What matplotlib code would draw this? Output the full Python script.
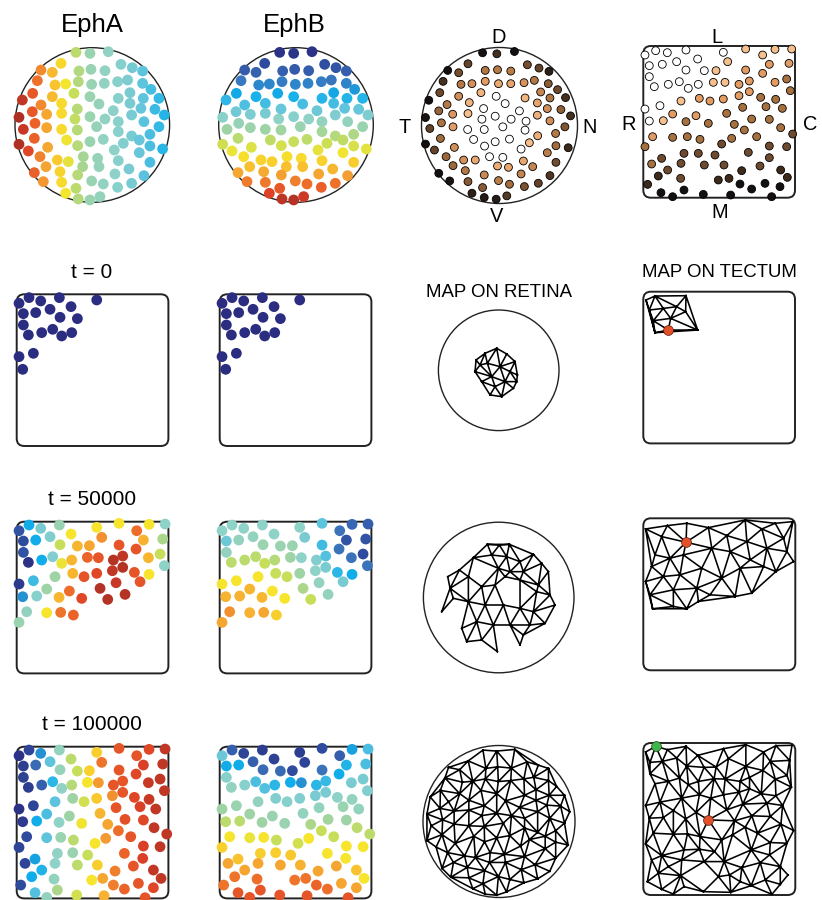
import numpy as np
import matplotlib
matplotlib.use("Agg")
import matplotlib.pyplot as plt
from matplotlib.patches import Circle, FancyBboxPatch
from matplotlib.colors import LinearSegmentedColormap, Normalize
import matplotlib.tri as mtri

plt.rcParams['font.family'] = ['Liberation Sans', 'DejaVu Sans']

# ---------------------------------------------------------------- data ----
# Retinal ganglion cell positions (retina frame: centre (277, 375), radius 232)
RET_X = [228, 270, 325,
         183, 123, 157, 237, 273, 315, 363, 397, 428,
         112, 165, 197, 235, 275, 313, 353, 383, 428,
         98, 157, 222, 270, 355, 390, 430, 453, 477,
         67, 123, 185, 297, 340, 390, 423, 465,
         97, 140, 185, 232, 270, 315, 395, 493,
         57, 105, 225, 290, 355, 432, 477,
         70, 140, 185, 232, 355, 395, 450,
         103, 200, 270, 310, 370, 418, 450, 488,
         57, 85, 143, 233, 343, 418,
         120, 172, 205, 250, 293, 355, 450,
         138, 180, 248, 297, 387, 345, 432,
         103, 233, 275, 310, 353, 395,
         130, 185, 228,
         197, 235, 270, 300]
RET_Y = [157, 160, 155,
         190, 210, 217, 213, 208, 212, 193, 203, 213,
         242, 255, 252, 245, 253, 250, 245, 240, 250,
         280, 290, 280, 290, 295, 278, 295, 268, 295,
         300, 315, 310, 312, 332, 310, 325, 328,
         335, 343, 340, 327, 350, 357, 345, 345,
         352, 370, 357, 380, 365, 365, 380,
         388, 383, 388, 390, 395, 408, 403,
         415, 420, 425, 418, 430, 420, 438, 447,
         433, 453, 442, 437, 450, 458,
         470, 480, 485, 470, 475, 482, 487,
         500, 515, 500, 500, 507, 522, 527,
         518, 525, 543, 552, 562, 550,
         545, 547, 565,
         580, 597, 600, 590]
RET_FRAME = (277, 375, 232)

# EphA expression along the nasal-temporal axis, EphB along dorsal-ventral
EPHA_AXIS_POS = [57, 105, 140, 170, 195, 232, 270, 320, 390, 440, 495]
EPHA_AXIS_LVL = [0.98, 0.88, 0.80, 0.74, 0.68, 0.57, 0.50, 0.46, 0.42, 0.37, 0.32]
EPHB_AXIS_POS = [157, 600]
EPHB_AXIS_LVL = [0.03, 0.97]

# Second retina sample, shaded by eccentricity (frame: centre (313, 316), radius 235)
ECC_X = [262, 305, 358,
         218, 397, 157, 190, 270, 307, 347, 432, 462,
         143, 197, 230, 270, 310, 347, 387, 418, 460, 488,
         133, 190, 257, 303, 390, 437, 465, 512,
         100, 155, 222, 265, 330, 373, 427, 457, 498,
         90, 130, 172, 218, 260, 300, 348, 393, 427, 465, 527,
         103, 138, 173, 217, 267, 323, 390, 510,
         90, 135, 235, 300, 343, 428, 482, 520,
         117, 177, 268, 378, 403, 457, 483,
         152, 205, 240, 283, 323, 385, 483,
         130, 173, 210, 307, 340, 413, 465,
         163, 218, 267, 310, 343, 378, 430, 388,
         230, 262, 335, 267, 303]
ECC_Y = [97, 100, 93,
         130, 133, 150, 157, 150, 148, 152, 143, 153,
         183, 192, 190, 183, 190, 190, 187, 180, 190, 208,
         217, 228, 217, 228, 233, 215, 233, 232,
         240, 253, 247, 265, 250, 272, 248, 265, 268,
         292, 272, 282, 280, 297, 288, 297, 303, 285, 302, 287,
         325, 308, 320, 328, 328, 320, 330, 320,
         372, 355, 358, 365, 357, 347, 340, 383,
         390, 382, 378, 387, 368, 398, 377,
         410, 420, 420, 410, 412, 423, 427,
         460, 437, 452, 438, 442, 440, 467,
         483, 485, 465, 482, 493, 462, 490, 500,
         520, 503, 528, 533, 538]
ECC_FRAME = (313, 316, 235)
ECC_RADIUS = [0.43, 0.60, 0.80, 0.90, 0.96]
ECC_LEVEL = [1.0, 2.0, 3.3, 4.3, 6.0]

# Tectal cells (frame x 100..555, y 78..533) shaded by level 0 (white) .. 6 (black)
TBROWN_X = [105, 137, 172, 228, 340, 407, 458, 495, 545,
            118, 157, 200, 263, 353, 478, 537,
            118, 228, 283, 318, 407, 458,
            133, 175, 208, 235, 265, 310, 345, 387, 418, 495, 530,
            387, 418, 452, 497, 541,
            150, 213, 268, 300, 340, 398, 468, 517,
            105, 118, 160, 188, 228, 258, 295, 350, 373, 425, 478,
            512, 548,
            128, 188, 232, 270, 365, 403, 440,
            105, 335, 478, 530,
            222, 265, 315, 415,
            125, 155, 213, 283, 342, 395, 450, 478, 512,
            145, 173, 212, 325, 357, 532,
            113, 153, 188, 222, 280, 362, 390, 425, 465, 510, 485]
TBROWN_Y = [105, 92, 98, 90, 97, 87, 105, 88, 87,
            137, 133, 125, 117, 125, 133, 130,
            170, 150, 152, 152, 150, 160,
            200, 193, 185, 205, 193, 187, 187, 193, 183, 187, 177,
            227, 215, 232, 238, 212,
            257, 243, 235, 243, 237, 262, 260, 265,
            267, 303, 302, 282, 305, 287, 310, 280, 313, 297, 298,
            323, 342,
            350, 352, 350, 358, 355, 330, 350,
            380, 372, 378, 380,
            400, 400, 405, 397,
            432, 415, 430, 435, 435, 452, 438, 413, 450,
            468, 450, 475, 480, 475, 472,
            493, 518, 530, 510, 523, 525, 492, 507, 490, 500, 530]
TBROWN_LVL = [0, 0, 0, 0, 0, 1, 1, 1, 1,
              0, 0, 0, 0, 1, 2, 2,
              0, 0, 0, 1, 2, 2,
              0, 0, 0, 0, 0, 1, 1, 2, 2, 2, 3,
              2, 2, 3, 3, 3,
              0, 1, 2, 2, 2, 3, 3, 3,
              0, 0, 1, 2, 3, 2, 3, 3, 3, 3, 3,
              3, 4,
              2, 3, 3, 3, 3, 3, 3,
              3, 4, 4, 4,
              4, 4, 4, 4,
              3, 4, 4, 4, 4, 5, 4, 4, 5,
              5, 4, 4, 5, 5, 5,
              5, 6, 6, 6, 6, 6, 6, 6, 6, 6, 6]
TBROWN_FRAME = (100, 555, 78, 533)

# Tectal cell positions used in the time series (frame x 50..505, y 35..490)
TEC_X = [57, 87, 122, 178, 290, 357, 410, 447, 495,
         70, 107, 150, 213, 305, 430, 488,
         70, 180, 232, 268, 357, 408, 480,
         85, 125, 158, 185, 215, 262, 295, 340, 368, 445, 493,
         57, 100, 165, 218, 252, 290, 337, 368, 403, 447, 420, 467,
         68, 110, 140, 177, 208, 245, 300, 348, 323, 375, 430, 462,
         80, 140, 182, 220, 317, 355, 392, 500,
         57, 285, 430, 480,
         172, 218, 263, 373, 428,
         75, 105, 165, 232, 292, 400, 345, 460,
         95, 125, 162, 275, 308, 340, 373, 415, 460, 483,
         62, 105, 140, 172, 230, 312, 435]
TEC_Y = [62, 45, 55, 45, 52, 40, 62, 43, 42,
         93, 90, 80, 72, 82, 90, 87,
         127, 104, 108, 107, 105, 117, 132,
         157, 150, 140, 160, 150, 142, 143, 150, 138, 143, 167,
         222, 212, 200, 190, 200, 190, 182, 172, 187, 193, 215, 222,
         260, 258, 237, 262, 243, 265, 235, 218, 268, 253, 255, 278,
         305, 308, 307, 315, 310, 287, 305, 297,
         337, 325, 333, 335,
         355, 353, 360, 355, 370,
         385, 372, 385, 390, 390, 393, 408, 405,
         425, 405, 432, 435, 430, 450, 462, 445, 458, 430,
         450, 473, 487, 465, 480, 482, 488]
TEC_FRAME = (50, 505, 35, 490)

# Innervated tectal cells at t = 0 (all carry the initial label)
T0_CELLS = [0, 1, 2, 3, 4, 9, 10, 11, 12, 16, 17, 18, 23, 24, 25, 26, 27, 34, 35, 46]
T0_LEVEL = 0.01

N = None
EPHA_T50 = [.12, .30, .42, .50, .68, .68, .87, .68, .45,
            .10, .30, .43, .68, .83, .78, .55,
            .12, .60, .77, .80, .90, .90, .60,
            .03, .30, .43, .66, .77, .88, .90, .97, .96, .77, .45,
            .05, .35, .52, .77, .90, .92, .96, .97, .90, .68, .90, N,
            .25, .44, .52, .77, .87, .92, .97, .95, .97, .97, N, N,
            .47, .68, .86, .88, N, N, N, N,
            .50, N, N, N,
            N, N, N, N, N,
            N, N, N, N, N, N, N, N,
            N, N, N, N, N, N, N, N, N, N,
            N, N, N, N, N, N, N]
EPHB_T50 = [.45, .45, .45, .45, .45, .38, .20, .17, .15,
            .40, .47, .47, .45, .42, .12, .12,
            .47, .50, .50, .50, .35, .20, .10,
            .58, .58, .58, .60, .57, .52, .45, .43, .37, .20, .20,
            .68, .68, .68, .60, .60, .52, .45, .42, .33, .30, .42, N,
            .78, .78, .77, .77, .68, .68, .55, .47, .60, .47, N, N,
            .83, .78, .80, .73, N, N, N, N,
            .80, N, N, N,
            N, N, N, N, N,
            N, N, N, N, N, N, N, N,
            N, N, N, N, N, N, N, N, N, N,
            N, N, N, N, N, N, N]
EPHA_T100 = [.03, .08, .25, .47, .73, .90, .90, .92, .96,
             .06, .18, .38, .58, .86, .93, .96,
             .07, .48, .60, .72, .90, .92, .96,
             .06, .15, .33, .46, .57, .68, .82, .90, .90, .95, .96,
             .03, .08, .38, .52, .62, .74, .83, .90, .92, .95, .93, .96,
             .05, .30, .36, .45, .52, .67, .77, .90, .80, .91, .92, .96,
             .10, .38, .50, .58, .82, .87, .90, .96,
             .08, .68, .93, .96,
             .46, .50, .60, .88, .93,
             .08, .28, .45, .58, .73, .90, .85, .96,
             .30, .32, .47, .68, .80, .85, .88, .90, .92, .96,
             .10, .37, .47, .55, .62, .78, .90]
EPHB_T100 = [.40, .15, .08, .06, .06, .10, .15, .28, .36,
             .30, .30, .15, .07, .08, .32, .36,
             .44, .18, .18, .10, .20, .30, .42,
             .47, .44, .36, .37, .33, .30, .25, .33, .34, .42, .43,
             .52, .50, .47, .43, .44, .43, .42, .42, .45, .47, .50, .47,
             .58, .58, .52, .52, .50, .50, .47, .47, .55, .53, .52, .58,
             .68, .66, .68, .60, .68, .60, .60, .58,
             .72, .62, .68, .68,
             .73, .73, .74, .68, .68,
             .80, .75, .80, .80, .78, .80, .80, .75,
             .86, .80, .87, .86, .86, .88, .87, .80, .80, .68,
             .86, .90, .90, .90, .90, .90, .90]

# Map meshes: vertex positions in each panel's own frame
RMAP_T0_X = [290, 320, 345, 352, 340, 305, 270, 245, 225, 228, 262, 300, 275, 315, 330, 255, 285, 240, 350]
RMAP_T0_Y = [295, 312, 335, 375, 415, 440, 435, 395, 365, 330, 340, 350, 380, 395, 365, 310, 410, 345, 395]
RMAP_T0_FRAME = (296, 361, 181)
TMAP_T0_X = [738, 765, 858, 748, 790, 830, 857, 893, 805, 765, 760, 812]
TMAP_T0_Y = [150, 138, 137, 180, 175, 170, 185, 240, 240, 248, 212, 205]
TMAP_T0_FRAME = (730, 1185, 125, 580)
TMAP_T0_MARK = 8

RMAP_T50_X = [190, 232, 268, 298, 370, 395, 415, 385, 265, 300, 340, 290, 330, 245,
              113, 148, 175, 215, 255, 285, 330, 380, 420, 435, 405, 360, 340, 330, 262,
              215, 170, 155, 95, 130, 175, 225, 280, 330, 370, 200, 250, 300, 120]
RMAP_T50_Y = [158, 118, 120, 118, 148, 175, 200, 240, 190, 200, 200, 155, 170, 150,
              215, 195, 215, 245, 240, 215, 225, 260, 270, 300, 355, 360, 390, 420, 440,
              405, 410, 370, 320, 280, 290, 300, 300, 310, 320, 350, 360, 360, 250]
RMAP_T50_FRAME = (266, 277.5, 226)
TMAP_T50_X = [47, 112, 170, 235, 290, 345, 395, 435, 488, 490, 437, 400, 360, 330, 365, 315,
              275, 240, 200, 170, 130, 68, 60, 47, 65, 75, 95, 168, 160, 120, 100, 150, 215,
              245, 300, 350, 410, 460, 470, 130, 205]
TMAP_T50_Y = [72, 62, 55, 68, 92, 45, 72, 55, 50, 170, 200, 185, 165, 190, 265, 275,
              220, 270, 250, 312, 305, 312, 270, 230, 185, 150, 95, 112, 150, 160, 215, 210, 190,
              130, 140, 110, 130, 100, 140, 255, 290]
TMAP_T50_FRAME = (40, 495, 40, 497)
TMAP_T50_MARK = 27

TMAP_T100_RED = 51
TMAP_T100_GREEN = 1

# ------------------------------------------------------------- styling ----
W, H = 822, 900
fig = plt.figure(figsize=(W / 100, H / 100), dpi=100)

EPH_CMAP = LinearSegmentedColormap.from_list("eph", [
    (0.00, "#2b2a7e"), (0.10, "#2f4c9e"), (0.20, "#3b73bb"), (0.30, "#0faeeb"),
    (0.38, "#5ec3dd"), (0.45, "#8fd2c8"), (0.52, "#9dd3a6"), (0.60, "#c6de5a"),
    (0.68, "#f7e52c"), (0.75, "#f9c42f"), (0.82, "#f39a32"), (0.88, "#ec6529"),
    (0.93, "#dd4127"), (1.00, "#9c2a22")])
BROWN_CMAP = LinearSegmentedColormap.from_list("ecc", [
    (0 / 6, "#ffffff"), (1 / 6, "#f6bf8b"), (2 / 6, "#e29b63"), (3 / 6, "#a8703f"),
    (4 / 6, "#6e4a2e"), (5 / 6, "#3e2a1a"), (6 / 6, "#141010")])

DOT = 60
BDOT = 32
LINE = "#222222"
MESH_LW = 1.15


def px_axes(left, top, size):
    ax = fig.add_axes([left / W, 1 - (top + size) / H, size / W, size / H])
    ax.set_axis_off()
    return ax


def retina_axes(pcx, pcy, pr, frame, lw=1.0):
    cx, cy, r = frame
    ax = px_axes(pcx - pr, pcy - pr, 2 * pr)
    ax.set_xlim(cx - r, cx + r)
    ax.set_ylim(cy + r, cy - r)
    ax.add_patch(Circle((cx, cy), r, fill=False, lw=lw, ec=LINE, zorder=1, clip_on=False))
    return ax


def tectum_axes(left, top, size, frame, lw=1.4):
    x0, x1, y0, y1 = frame
    ax = px_axes(left, top, size)
    ax.set_xlim(x0, x1)
    ax.set_ylim(y1, y0)
    rs = (x1 - x0) * 0.05
    ax.add_patch(FancyBboxPatch((x0, y0), x1 - x0, y1 - y0,
                                boxstyle=f"round,pad=0,rounding_size={rs}",
                                fill=False, lw=lw, ec=LINE, zorder=1, clip_on=False))
    return ax


def label(x, y, s, size):
    fig.text(x / W, 1 - y / H, s, ha="center", va="baseline", fontsize=size)


def mesh(ax, xs, ys, max_edge, lw=MESH_LW):
    xs = np.asarray(xs, float)
    ys = np.asarray(ys, float)
    tri = mtri.Triangulation(xs, ys)
    t = tri.triangles
    e = np.stack([np.hypot(xs[t[:, i]] - xs[t[:, (i + 1) % 3]],
                           ys[t[:, i]] - ys[t[:, (i + 1) % 3]]) for i in range(3)], axis=1)
    tri.set_mask(e.max(axis=1) > max_edge)
    ax.triplot(tri, color="black", lw=lw, zorder=2, clip_on=False)


def dots(ax, xs, ys, levels, s=DOT):
    keep = [i for i, v in enumerate(levels) if v is not None]
    ax.scatter(np.asarray(xs)[keep], np.asarray(ys)[keep], s=s,
               c=np.asarray([levels[i] for i in keep], float), cmap=EPH_CMAP,
               norm=Normalize(0, 1), linewidths=0, zorder=3, clip_on=False)


# ------------------------------------------------------------ row 1 -------
ret_x = np.asarray(RET_X, float)
ret_y = np.asarray(RET_Y, float)
epha_lvl = np.interp(ret_x, EPHA_AXIS_POS, EPHA_AXIS_LVL)
ephb_lvl = np.interp(ret_y, EPHB_AXIS_POS, EPHB_AXIS_LVL)

ax = retina_axes(92.3, 125, 77.3, RET_FRAME)
dots(ax, ret_x, ret_y, list(epha_lvl))
label(92.7, 31.7, "EphA", 18.5)

ax = retina_axes(296, 125, 77.3, RET_FRAME)
dots(ax, ret_x, ret_y, list(ephb_lvl))
label(294.3, 31.7, "EphB", 18.5)

ax = retina_axes(499.5, 125.5, 78, ECC_FRAME)
ecc_x = np.asarray(ECC_X, float)
ecc_y = np.asarray(ECC_Y, float)
ecc_r = np.hypot(ecc_x - ECC_FRAME[0], ecc_y - ECC_FRAME[1]) / ECC_FRAME[2]
ecc_lvl = np.where(ecc_r < ECC_RADIUS[0], 0.0, np.interp(ecc_r, ECC_RADIUS, ECC_LEVEL))
ax.scatter(ecc_x, ecc_y, s=BDOT, c=ecc_lvl, cmap=BROWN_CMAP, norm=Normalize(0, 6),
           edgecolors="black", linewidths=0.6, zorder=3, clip_on=False)
label(498.3, 42.7, "D", 14.4)
label(496.7, 221.7, "V", 14.4)
label(405, 132.7, "T", 14.4)
label(589.3, 132.7, "N", 14.4)

ax = tectum_axes(643.3, 46, 151.7, TBROWN_FRAME)
ax.scatter(TBROWN_X, TBROWN_Y, s=BDOT, c=TBROWN_LVL, cmap=BROWN_CMAP, norm=Normalize(0, 6),
           edgecolors="black", linewidths=0.6, zorder=3, clip_on=False)
label(717, 42.7, "L", 14.4)
label(720, 218.3, "M", 14.4)
label(628.3, 130, "R", 14.4)
label(810, 130, "C", 14.4)

# ------------------------------------------------------------ rows 2-4 ----
t0_lvl = [T0_LEVEL if i in T0_CELLS else None for i in range(len(TEC_X))]
rows = [
    ("t = 0", 294.3, 278.3, t0_lvl, t0_lvl),
    ("t = 50000", 521.7, 505, EPHA_T50, EPHB_T50),
    ("t = 100000", 746.7, 730, EPHA_T100, EPHB_T100),
]
for title, top, base, la, lb in rows:
    ax = tectum_axes(16.7, top, 151.7, TEC_FRAME)
    dots(ax, TEC_X, TEC_Y, la)
    ax = tectum_axes(219.7, top, 151.7, TEC_FRAME)
    dots(ax, TEC_X, TEC_Y, lb)
    label(91.7, base, title, 15)

label(498.7, 296.7, "MAP ON RETINA", 13.4)
label(719, 276.7, "MAP ON TECTUM", 13.4)

RED = "#e4502a"
GREEN = "#3fb54a"

# t = 0
ax = retina_axes(498.7, 370.3, 60.3, RMAP_T0_FRAME)
mesh(ax, RMAP_T0_X, RMAP_T0_Y, 80)
ax = tectum_axes(643.3, 291.7, 151.7, TMAP_T0_FRAME)
mesh(ax, TMAP_T0_X, TMAP_T0_Y, 140)
ax.scatter([TMAP_T0_X[TMAP_T0_MARK]], [TMAP_T0_Y[TMAP_T0_MARK]], s=50, c=RED,
           edgecolors="#5a1a0a", linewidths=0.5, zorder=4, clip_on=False)

# t = 50000
ax = retina_axes(498.7, 597.5, 75.3, RMAP_T50_FRAME)
mesh(ax, RMAP_T50_X, RMAP_T50_Y, 85)
ax = tectum_axes(643.3, 518.3, 152, TMAP_T50_FRAME)
mesh(ax, TMAP_T50_X, TMAP_T50_Y, 120)
ax.scatter([TMAP_T50_X[TMAP_T50_MARK]], [TMAP_T50_Y[TMAP_T50_MARK]], s=50, c=RED,
           edgecolors="#5a1a0a", linewidths=0.5, zorder=4, clip_on=False)

# t = 100000
ax = retina_axes(499, 821.5, 76, RET_FRAME)
mesh(ax, RET_X, RET_Y, 90)
ax = tectum_axes(643.3, 743, 152, TEC_FRAME)
mesh(ax, TEC_X, TEC_Y, 90)
ax.scatter([TEC_X[TMAP_T100_RED]], [TEC_Y[TMAP_T100_RED]], s=50, c=RED,
           edgecolors="#5a1a0a", linewidths=0.5, zorder=4, clip_on=False)
ax.scatter([TEC_X[TMAP_T100_GREEN]], [TEC_Y[TMAP_T100_GREEN]], s=50, c=GREEN,
           edgecolors="#1a4a1a", linewidths=0.5, zorder=4, clip_on=False)

fig.savefig("out.png", dpi=100)
